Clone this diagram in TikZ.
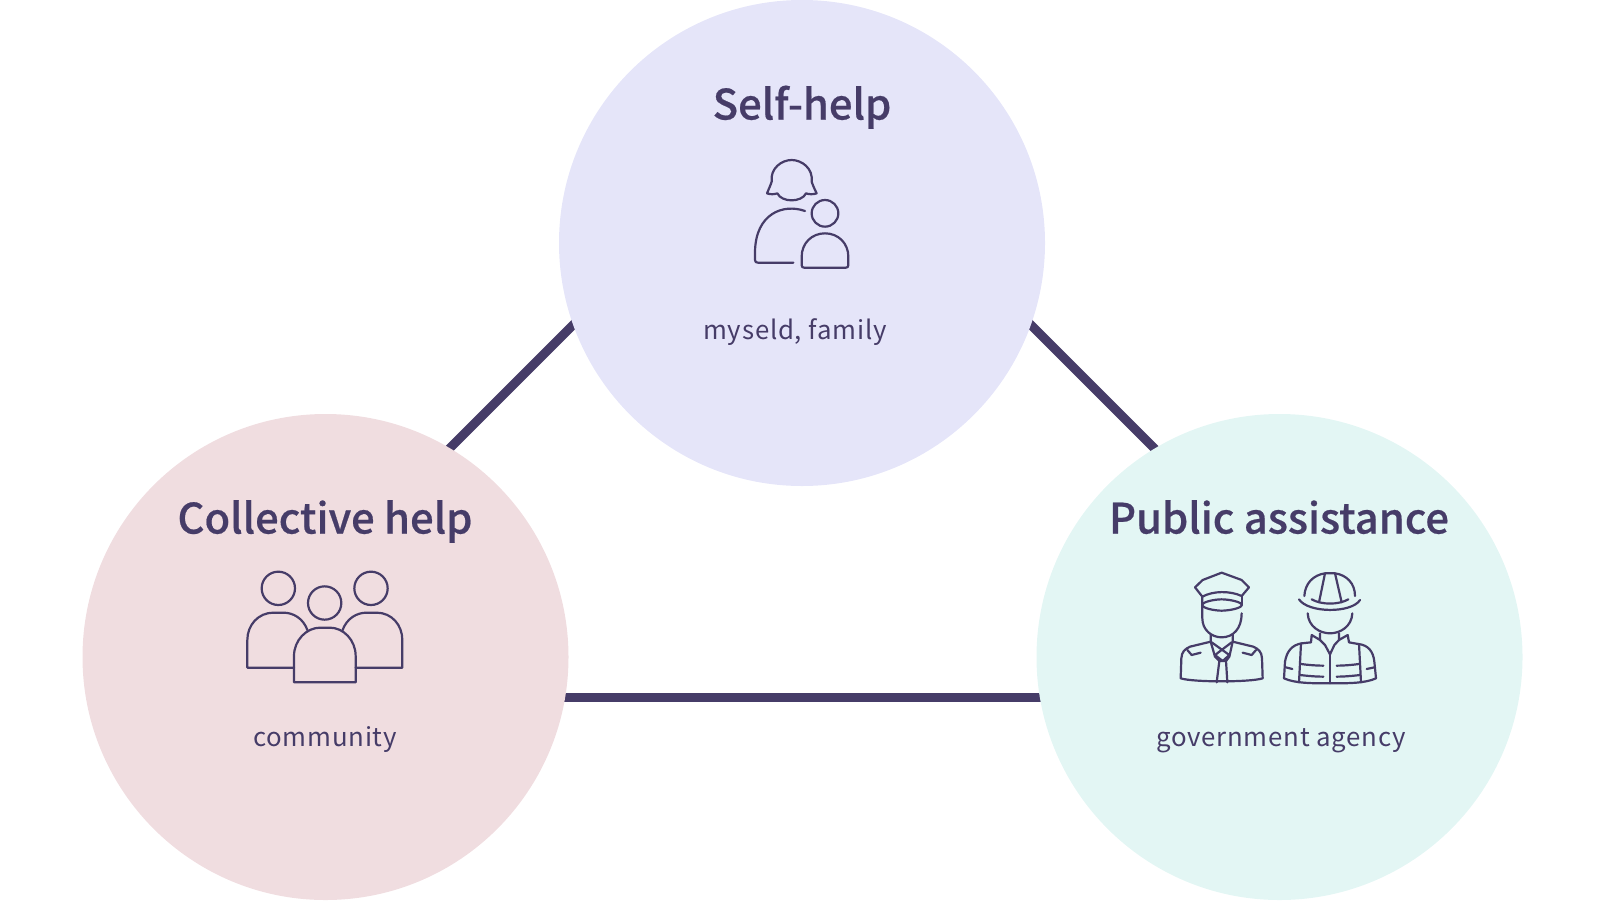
\documentclass[tikz,border=0pt]{standalone}
\usepackage{fontspec}
\setmainfont{Noto Sans CJK JP}
\newfontfamily\titlefont[FakeBold=.5]{Noto Sans CJK JP Medium}
\newfontfamily\subfont[LetterSpace=3]{Noto Sans CJK JP}
\usetikzlibrary{backgrounds}
\definecolor{inkcol}{HTML}{463C68}
\definecolor{selfcol}{HTML}{E5E5F9}
\definecolor{collcol}{HTML}{F0DDE0}
\definecolor{pubcol}{HTML}{E3F6F4}
\tikzset{
  helpcircle/.style={circle,inner sep=0pt,minimum size=243pt},
  headline/.style={anchor=base,text=inkcol,font=\titlefont\fontsize{20.9}{24}\selectfont},
  subline/.style={anchor=base,text=inkcol,font=\subfont\fontsize{12.9}{16}\selectfont},
  linkline/.style={draw=inkcol,line width=4.5pt,shorten >=-3pt,shorten <=-3pt},
  icon/.style={draw=inkcol,line width=1.1pt,line join=round,line cap=round},
}
\begin{document}
\begin{tikzpicture}[x=.5pt,y=-.5pt]
  \useasboundingbox (0,0) rectangle (1600,900);
  \node[helpcircle,fill=selfcol] (self) at (802,243) {};
  \node[helpcircle,fill=collcol] (coll) at (325.5,657) {};
  \node[helpcircle,fill=pubcol] (pub) at (1279.5,657) {};
  \coordinate (selfleft) at (573.5,324.5);
  \coordinate (selfright) at (1030.5,324.5);
  \coordinate (colltop) at (449,449);
  \coordinate (pubtop) at (1155,449);
  \coordinate (collright) at (564,697);
  \coordinate (publeft) at (1041,697);
  \begin{pgfonlayer}{background}
    \draw[linkline] (selfleft) -- (colltop);
    \draw[linkline] (selfright) -- (pubtop);
    \draw[linkline] (collright) -- (publeft);
  \end{pgfonlayer}
  \node[headline] (selftitle) at (802,119.5) {Self-help};
  \node[headline] (colltitle) at (325,533.5) {Collective help};
  \node[headline] (pubtitle) at (1279,533.5) {Public assistance};
  \node[subline] (selfsub) at (795,339) {myseld, family};
  \node[subline] (collsub) at (325,746) {community};
  \node[subline] (pubsub) at (1281,746) {government agency};
  % self-help icon
  \begin{scope}[shift={(720,140)},scale=1/3]
    \draw[icon] (141,160) .. controls (145,150) and (152,135) .. (155,125)
      .. controls (150,85) and (185,60) .. (215,60)
      .. controls (245,60) and (280,85) .. (275,125)
      .. controls (278,135) and (285,150) .. (290,160)
      .. controls (280,164) and (265,163) .. (258,160)
      .. controls (245,188) and (185,188) .. (172,160)
      .. controls (165,163) and (150,164) .. cycle;
    \draw[icon] (255,213) .. controls (190,190) and (107,220) .. (105,335)
      -- (105,360) .. controls (105,366) and (108,368) .. (114,368) -- (220,368);
    \draw[icon] (315,220) circle (40);
    \draw[icon] (253,383) .. controls (247,383) and (245,381) .. (245,375) -- (245,350)
      .. controls (245,310) and (275,280) .. (315,280)
      .. controls (355,280) and (385,310) .. (385,350) -- (385,375)
      .. controls (385,381) and (383,383) .. (377,383) -- cycle;
  \end{scope}
  % collective help icon
  \begin{scope}[shift={(230,550)},scale=1/3]
    \draw[icon] (145,115) circle (50);
    \draw[icon] (423,115) circle (50);
    \draw[icon] (284,159) circle (50);
    \draw[icon] (233,242) .. controls (220,205) and (190,188) .. (160,188)
      -- (130,188) .. controls (85,188) and (52,225) .. (52,270)
      -- (52,353) -- (192,353);
    \draw[icon] (337,242) .. controls (350,205) and (380,188) .. (410,188)
      -- (440,188) .. controls (485,188) and (517,225) .. (517,270)
      -- (517,353) -- (377,353);
    \draw[icon] (192,397) -- (192,318)
      .. controls (192,270) and (230,233) .. (270,233) -- (300,233)
      .. controls (340,233) and (377,270) .. (377,318) -- (377,397) -- cycle;
  \end{scope}
  % officer head
  \begin{scope}[shift={(1140,550)},scale=1/3]
    \draw[icon] (187,140) -- (165,112) -- (188,90) -- (245,68) -- (305,90)
      -- (327,112) -- (305,138) .. controls (270,122) and (220,122) .. cycle;
    \draw[icon] (187,165) .. controls (187,155) and (225,148) .. (245,148)
      .. controls (265,148) and (305,155) .. (305,165)
      .. controls (305,175) and (265,182) .. (245,182)
      .. controls (225,182) and (187,175) .. cycle;
    \draw[icon] (305,138) -- (305,165);
    \draw[icon] (187,140) -- (187,205) .. controls (187,240) and (215,262) .. (245,262)
      .. controls (280,262) and (305,235) .. (305,190);
  \end{scope}
  % officer body
  \begin{scope}[shift={(1170,625)},scale=1/3]
    \draw[icon] (122,28) -- (122,50) -- (60,65) .. controls (45,72) and (35,80) .. (34,100)
      -- (32,160) .. controls (70,172) and (240,172) .. (278,160) -- (276,100)
      .. controls (275,80) and (265,72) .. (250,65) -- (188,50) -- (188,28);
    \draw[icon] (52,75) -- (65,90) -- (92,83);
    \draw[icon] (258,75) -- (245,90) -- (218,83);
    \draw[icon] (122,50) -- (135,95) -- (148,108);
    \draw[icon] (188,50) -- (178,95) -- (168,108);
    \draw[icon] (125,52) -- (178,90) -- (158,108) -- (135,90) -- (185,52);
    \draw[icon] (148,108) -- (168,108) -- (172,172);
    \draw[icon] (148,108) -- (140,172);
  \end{scope}
  % worker head
  \begin{scope}[shift={(1245,550)},scale=1/3]
    \draw[icon] (178,138) .. controls (180,100) and (205,75) .. (240,70) -- (270,70)
      .. controls (305,75) and (330,100) .. (330,138);
    \draw[icon] (162,148) .. controls (190,190) and (320,190) .. (345,150);
    \draw[icon] (200,148) .. controls (230,165) and (280,165) .. (310,148);
    \draw[icon] (240,70) -- (222,157);
    \draw[icon] (270,70) -- (290,157);
    \draw[icon] (188,190) .. controls (190,230) and (225,250) .. (255,250)
      .. controls (285,250) and (320,230) .. (322,190);
  \end{scope}
  % worker body
  \begin{scope}[shift={(1275,625)},scale=1/3]
    \draw[icon] (135,25) -- (135,45) -- (110,30) -- (108,52) -- (80,55)
      .. controls (50,60) and (35,80) .. (30,110) -- (27,160)
      .. controls (60,175) and (110,175) .. (165,175)
      .. controls (220,175) and (270,175) .. (303,160) -- (298,110)
      .. controls (295,80) and (280,60) .. (250,57) -- (222,52) -- (218,30) -- (192,45) -- (192,25);
    \draw[icon] (135,45) -- (150,60) -- (165,88) -- (178,60) -- (192,45);
    \draw[icon] (165,88) -- (165,175);
    \draw[icon] (78,55) -- (72,172);
    \draw[icon] (252,57) -- (258,172);
    \draw[icon] (78,117) .. controls (100,120) and (125,122) .. (145,122);
    \draw[icon] (75,150) .. controls (100,153) and (125,155) .. (145,155);
    \draw[icon] (185,122) .. controls (205,122) and (230,120) .. (252,117);
    \draw[icon] (185,155) .. controls (205,155) and (230,153) .. (255,150);
    \draw[icon] (32,127) -- (52,132);
    \draw[icon] (298,127) -- (275,132);
  \end{scope}
\end{tikzpicture}
\end{document}
